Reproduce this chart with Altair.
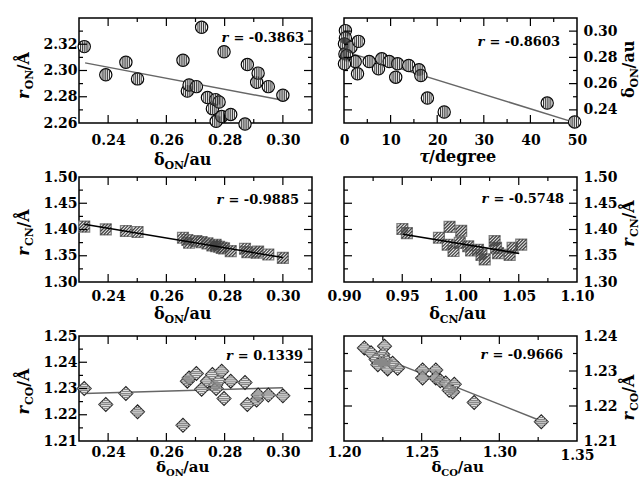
import altair as alt
import pandas as pd

FONT = "DejaVu Serif"
W, H = 233, 105

# ---------------- data ----------------
# panels 1, 3, 5 share delta_ON on x
delta_on = [0.2318, 0.2392, 0.2461, 0.2501, 0.2657, 0.2672, 0.2678, 0.2703, 0.2721, 0.2741,
            0.2758, 0.2769, 0.2771, 0.2781, 0.2790, 0.2798, 0.2821, 0.2870, 0.2878, 0.2910,
            0.2915, 0.2950, 0.3000]
r_on = [2.3182, 2.2967, 2.3063, 2.2936, 2.3078, 2.2843, 2.2890, 2.2877, 2.3329, 2.2794,
        2.2709, 2.2778, 2.2613, 2.2760, 2.2649, 2.3143, 2.2665, 2.2592, 2.3045, 2.2910,
        2.2980, 2.2877, 2.2812]
r_cn = [1.4054, 1.4003, 1.3971, 1.3952, 1.3843, 1.3800, 1.3748, 1.3780, 1.3760, 1.3735,
        1.3696, 1.3710, 1.3680, 1.3671, 1.3650, 1.3640, 1.3588, 1.3633, 1.3569, 1.3556,
        1.3580, 1.3524, 1.3460]
r_co = [1.2300, 1.2239, 1.2281, 1.2211, 1.2160, 1.2328, 1.2340, 1.2357, 1.2297, 1.2328,
        1.2353, 1.2313, 1.2300, 1.2330, 1.2366, 1.2262, 1.2328, 1.2323, 1.2239, 1.2256,
        1.2275, 1.2275, 1.2272]

# panel 2: tau vs delta_ON
tau = [0.3, 0.3, 0.1, 0.2, 1.5, 3.1, 0.6, 2.4, 0.1, 2.9, 5.4, 7.4, 8.1, 9.7, 11.5, 11.1,
       13.9, 16.1, 16.5, 17.9, 21.5, 43.6, 49.5]
delta_on_tau = [0.3004, 0.2948, 0.2903, 0.2826, 0.2877, 0.2922, 0.2814, 0.2768, 0.2751, 0.2675,
                0.2768, 0.2713, 0.2789, 0.2768, 0.2751, 0.2649, 0.2738, 0.2705, 0.2662, 0.2490,
                0.2384, 0.2452, 0.2308]

# panel 4: delta_CN vs r_CN
delta_cn = [0.9501, 0.9540, 0.9815, 0.9906, 1.0006, 0.9890, 0.9940, 0.9994, 1.0066, 1.0091,
            1.0150, 1.0180, 1.0208, 1.0293, 1.0322, 1.0305, 1.0422, 1.0447, 1.0521]
r_cn_4 = [1.4010, 1.3930, 1.3843, 1.4050, 1.3974, 1.3710, 1.3590, 1.3745, 1.3680, 1.3600,
          1.3614, 1.3516, 1.3430, 1.3778, 1.3550, 1.3650, 1.3516, 1.3650, 1.3712]

# panel 6: delta_CO vs r_CO
delta_co = [1.2131, 1.2174, 1.2261, 1.2250, 1.2207, 1.2270, 1.2250, 1.2281, 1.2345, 1.2313,
            1.2218, 1.2506, 1.2506, 1.2591, 1.2591, 1.2620, 1.2655, 1.2710, 1.2700, 1.2677,
            1.2838, 1.3270]
r_co_6 = [1.2366, 1.2352, 1.2371, 1.2347, 1.2333, 1.2330, 1.2322, 1.2306, 1.2308, 1.2322,
          1.2318, 1.2303, 1.2280, 1.2303, 1.2280, 1.2272, 1.2266, 1.2262, 1.2240, 1.2245,
          1.2210, 1.2155]

# fitted lines (end points)
fit_x = [[0.2321, 0.3000], [0.3, 49.4], [0.2318, 0.3000], [0.9507, 1.0504], [0.2318, 0.3000], [1.2141, 1.3266]]
fit_y = [[2.3058, 2.2773], [0.2844, 0.2305], [1.4100, 1.3465], [1.3908, 1.3545], [1.2281, 1.2303], [1.2356, 1.2158]]

r_labels = ["-0.3863", "-0.8603", "-0.9885", "-0.5748", "0.1339", "-0.9666"]

# ---------------- helpers ----------------
CIRCLE_HATCH = "M-0.6,-0.8L-0.6,0.8M-0.3,-0.954L-0.3,0.954M0,-1L0,1M0.3,-0.954L0.3,0.954M0.6,-0.8L0.6,0.8"
SQUARE_HATCH = "M-1,-0.2L-0.2,-1M-1,0.4L0.4,-1M-1,1L1,-1M-0.4,1L1,-0.4M0.2,1L1,0.2"
DIAMOND_HATCH = "M-0.4,-0.6L0.4,-0.6M-0.7,-0.3L0.7,-0.3M-1,0L1,0M-0.7,0.3L0.7,0.3M-0.4,0.6L0.4,0.6"

EM = {"0": 0.696, "1": 0.696, "2": 0.696, "3": 0.696, "4": 0.696, "5": 0.696, "6": 0.696,
      "7": 0.696, "8": 0.696, "9": 0.696, ".": 0.38, " ": 0.348, "=": 0.838, "-": 0.415,
      "r": 0.6, "δ": 0.66, "τ": 0.62, "O": 0.85, "N": 0.88, "C": 0.80, "/": 0.365, "Å": 0.84,
      "a": 0.675, "u": 0.74, "d": 0.74, "e": 0.68, "g": 0.74}


def tw(s, size):
    return sum(EM.get(c, 0.65) for c in s) * size


ONE = pd.DataFrame({"k": [0]})


def text_piece(txt, x, y, dx, dy, size, italic, angle, align="left"):
    kw = dict(text=txt, align=align, baseline="alphabetic", dx=dx, dy=dy, font=FONT,
              fontSize=size, fontWeight="bold", color="black")
    if italic:
        kw["fontStyle"] = "italic"
    if angle:
        kw["angle"] = angle
    return alt.Chart(ONE).mark_text(**kw).encode(x=alt.value(x), y=alt.value(y))


def title_layers(pieces, x, y, angle=0):
    # pieces: (text, size, italic, subscript)
    total = sum(tw(p[0], p[1]) for p in pieces)
    cur = -total / 2
    out = []
    for txt, size, ital, sub in pieces:
        out.append(text_piece(txt, x, y, cur, 4 if sub else 0, size, ital, angle))
        cur += tw(txt, size)
    return out


def sub_title(main, sub, tail, first_italic, big=16, small=11):
    return [(main, big, first_italic, False), (sub, small, False, True), (tail, big, False, False)]


def panel(xv, yv, idx, kind, xdom, ydom, xlab, xmaj, xmin, ylab, ymaj, ymin, xfmt, yorient,
          r_right, r_base, xtitle, xt_pos, ytitle, yt_pos, xpad, line_color):
    xs = alt.Scale(domain=xdom, zero=False, nice=False)
    ys = alt.Scale(domain=ydom, zero=False, nice=False)
    df = pd.DataFrame({"x": xv, "y": yv})
    xax = alt.Axis(values=xlab, format=xfmt, orient="bottom", labelPadding=xpad, title=None,
                   ticks=False, tickSize=0, domain=False, grid=False)
    yax = alt.Axis(values=ylab, format=".2f", orient=yorient,
                   labelPadding=2 if yorient == "left" else 6, title=None,
                   ticks=False, tickSize=0, domain=False, grid=False)
    X = alt.X("x:Q", scale=xs, axis=xax)
    Y = alt.Y("y:Q", scale=ys, axis=yax)

    if kind == "circle":
        base = alt.Chart(df).mark_point(shape="circle", size=150, filled=True, fill="white",
                                        stroke="black", strokeWidth=1.2, opacity=1).encode(x=X, y=Y)
        hatch = alt.Chart(df).mark_point(shape=CIRCLE_HATCH, size=150, filled=False,
                                         stroke="#333333", strokeWidth=1, opacity=1).encode(x=X, y=Y)
    elif kind == "square":
        base = alt.Chart(df).mark_point(shape="square", size=115, filled=True, fill="#f0f0f0",
                                        stroke="#808080", strokeWidth=1.4, opacity=1).encode(x=X, y=Y)
        hatch = alt.Chart(df).mark_point(shape=SQUARE_HATCH, size=115, filled=False,
                                         stroke="#444444", strokeWidth=1.3, opacity=1).encode(x=X, y=Y)
    else:
        base = alt.Chart(df).mark_point(shape="diamond", size=190, filled=True, fill="white",
                                        stroke="#222222", strokeWidth=1.2, opacity=1).encode(x=X, y=Y)
        hatch = alt.Chart(df).mark_point(shape=DIAMOND_HATCH, size=190, filled=False,
                                         stroke="#888888", strokeWidth=1.4, opacity=1).encode(x=X, y=Y)

    fdf = pd.DataFrame({"x": fit_x[idx], "y": fit_y[idx]})
    line = alt.Chart(fdf).mark_line(color=line_color, strokeWidth=1.5).encode(x=X, y=Y)

    layers = []
    if kind == "square":
        layers += [base, hatch, line]
    else:
        layers += [line, base, hatch]

    # inward ticks on all four sides
    for vals, L in ((xmaj, 8), (xmin, 4)):
        tdf = pd.DataFrame({"x": vals})
        layers.append(alt.Chart(tdf).mark_rule(color="black", strokeWidth=1.2)
                      .encode(x=X, y=alt.value(0), y2=alt.value(L)))
        layers.append(alt.Chart(tdf).mark_rule(color="black", strokeWidth=1.2)
                      .encode(x=X, y=alt.value(H), y2=alt.value(H - L)))
    for vals, L in ((ymaj, 8), (ymin, 4)):
        tdf = pd.DataFrame({"y": vals})
        layers.append(alt.Chart(tdf).mark_rule(color="black", strokeWidth=1.2)
                      .encode(y=Y, x=alt.value(0), x2=alt.value(L)))
        layers.append(alt.Chart(tdf).mark_rule(color="black", strokeWidth=1.2)
                      .encode(y=Y, x=alt.value(W), x2=alt.value(W - L)))

    # r = ... annotation
    rest = " = " + r_labels[idx]
    layers.append(text_piece(rest, r_right, r_base, 0, 0, 13, False, 0, align="right"))
    layers.append(text_piece("r", r_right, r_base, -tw(rest, 13), 0, 13, True, 0, align="right"))

    layers += title_layers(xtitle, xt_pos[0], xt_pos[1], 0)
    layers += title_layers(ytitle, yt_pos[0], yt_pos[1], 270)

    return alt.layer(*layers).properties(width=W, height=H)


X_ON = ([0.23, 0.31], [0.24, 0.26, 0.28, 0.30], [0.24, 0.26, 0.28, 0.30], [0.25, 0.27, 0.29])
BOTTOM_PAD = {"condition": {"test": "datum.value >= 1.349", "value": 7}, "value": 4}

p1 = panel(delta_on, r_on, 0, "circle", X_ON[0], [2.26, 2.34], X_ON[1], X_ON[2], X_ON[3],
           [2.26, 2.28, 2.30, 2.32], [2.28, 2.30, 2.32], [2.27, 2.29, 2.31, 2.33], ".2f", "left",
           W - 8, 24, sub_title("δ", "ON", "/au", False), (104, 147),
           sub_title("r", "ON", "/Å", True), (-50, 57), 10, "#666666")

p2 = panel(tau, delta_on_tau, 1, "circle", [0, 50], [0.23, 0.31], [0, 10, 20, 30, 40, 50],
           [10, 20, 30, 40], [5, 15, 25, 35, 45],
           [0.24, 0.26, 0.28, 0.30], [0.24, 0.26, 0.28, 0.30], [0.25, 0.27, 0.29], "d", "right",
           W - 17, 28, [("τ", 16, True, False), ("/degree", 16, False, False)], (116, 144),
           sub_title("δ", "ON", "/au", False), (290, 51), 10, "#666666")

p3 = panel(delta_on, r_cn, 2, "square", X_ON[0], [1.30, 1.50], X_ON[1], X_ON[2], X_ON[3],
           [1.30, 1.35, 1.40, 1.45, 1.50], [1.35, 1.40, 1.45], [1.325, 1.375, 1.425, 1.475],
           ".2f", "left", W - 13, 27, sub_title("δ", "ON", "/au", False), (104, 142),
           sub_title("r", "CN", "/Å", True), (-50, 55), 7, "black")

p4 = panel(delta_cn, r_cn_4, 3, "square", [0.90, 1.10], [1.30, 1.50],
           [0.90, 0.95, 1.00, 1.05, 1.10], [0.95, 1.00, 1.05], [0.925, 0.975, 1.025, 1.075],
           [1.30, 1.35, 1.40, 1.45, 1.50], [1.35, 1.40, 1.45], [1.325, 1.375, 1.425, 1.475],
           ".2f", "right", W - 13, 26, sub_title("δ", "CN", "/au", False), (114, 142),
           sub_title("r", "CN", "/Å", True), (290, 46), 7, "black")

p5 = panel(delta_on, r_co, 4, "diamond", X_ON[0], [1.21, 1.25], X_ON[1], X_ON[2], X_ON[3],
           [1.21, 1.22, 1.23, 1.24, 1.25], [1.22, 1.23, 1.24], [1.215, 1.225, 1.235, 1.245],
           ".2f", "left", W - 9, 24, sub_title("δ", "ON", "/au", False, 15, 10), (104, 136),
           sub_title("r", "CO", "/Å", True), (-50, 55), 4, "#666666")

p6 = panel(delta_co, r_co_6, 5, "diamond", [1.20, 1.35], [1.21, 1.24],
           [1.20, 1.25, 1.30, 1.35], [1.25, 1.30], [1.225, 1.275, 1.325],
           [1.21, 1.22, 1.23, 1.24], [1.22, 1.23], [1.215, 1.225, 1.235],
           ".2f", "right", W - 14, 23, sub_title("δ", "CO", "/au", False, 15, 10), (114, 136),
           sub_title("r", "CO", "/Å", True), (290, 61), BOTTOM_PAD, "#666666")

chart = alt.concat(p1, p2, p3, p4, p5, p6, columns=2,
                   spacing={"row": 54, "column": 32}, bounds="flush").properties(
    padding={"left": 15, "top": 16, "right": 0, "bottom": 2},
    background="white",
).configure_view(
    stroke="black", strokeWidth=1.5
).configure_axis(
    labelFont=FONT, labelFontSize=14, labelFontWeight="bold", labelColor="black",
    labelFlush=False, labelOverlap=False, labelBound=False
)

chart.save("out.html", embed_options={"renderer": "svg", "actions": False})
